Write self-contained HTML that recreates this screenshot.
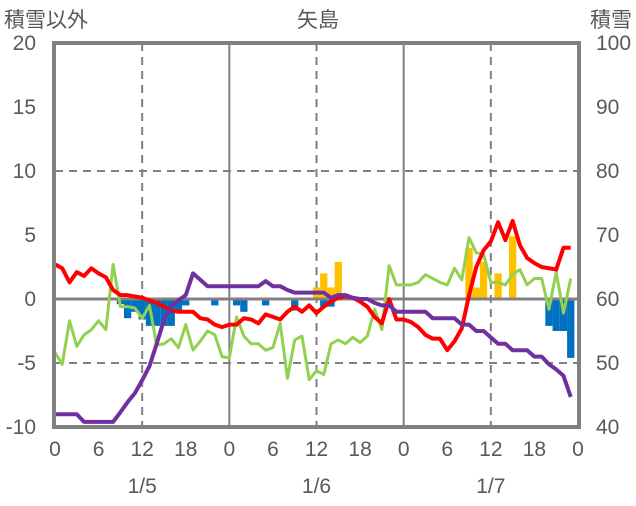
<!DOCTYPE html>
<html><head><meta charset="utf-8"><style>
body{margin:0;background:#fff;}
svg text{font-family:"Liberation Sans Narrow","Liberation Sans","Noto Sans CJK JP",sans-serif;fill:#595959;font-size:21px;}
</style></head><body>
<svg id="chart" width="636" height="501" viewBox="0 0 636 501" xmlns="http://www.w3.org/2000/svg"></svg>
<script>
const hours=[...Array(72).keys()];
const redValues=[2.7,2.4,1.3,2.1,1.8,2.4,2.0,1.7,0.7,0.3,0.3,0.2,0.1,-0.1,-0.3,-0.6,-0.9,-1.0,-1.0,-1.0,-1.5,-1.6,-2.0,-2.2,
-2.0,-2.0,-1.5,-1.6,-1.9,-1.2,-1.4,-1.6,-1.0,-0.6,-1.0,-0.5,-1.1,-0.6,-0.2,0.1,0.2,0.1,-0.2,-0.6,-1.4,-1.9,0.0,-1.6,
-1.6,-1.8,-2.2,-2.8,-3.1,-3.1,-4.0,-3.3,-2.3,0.3,2.5,3.8,4.5,6.0,4.6,6.1,4.2,3.2,2.8,2.5,2.4,2.3,4.0,4.0];
const greenValues=[-4.2,-5.1,-1.7,-3.7,-2.8,-2.4,-1.7,-2.4,2.7,-0.6,-0.6,-0.7,-1.5,-0.5,-3.6,-3.5,-3.1,-3.8,-2.0,-4.0,-3.3,-2.5,-2.8,-4.5,
-4.6,-1.4,-2.9,-3.5,-3.5,-4.0,-3.8,-1.9,-6.2,-3.2,-2.9,-6.3,-5.6,-5.9,-3.5,-3.2,-3.5,-3.0,-3.4,-2.9,-0.8,-2.4,2.6,1.1,
1.1,1.1,1.3,1.9,1.6,1.3,1.1,2.4,1.5,4.8,3.6,3.5,1.3,1.3,1.1,1.9,2.3,1.1,1.6,1.6,-0.8,2.1,-1.1,1.6];
const purpleValues=[42,42,42,42,40.8,40.8,40.8,40.8,40.8,42.3,43.9,45.3,47.3,49.5,53,56.7,58.9,59.8,60.6,64,63,62,62,62,
62,62,62,62,62,62.8,62,62,61.4,61,61,61,61,61,60.2,60.6,60.6,60.2,60,60,59.4,59,59,58,
58,58,58,58,57,57,57,57,56,56,55,55,54,53,53,52,52,52,51,51,49.8,49,48,44.7];
const blueHours=[9,10,11,12,13,14,15,16,17,18,22,25,26,29,33,37,38,68,69,70,71];
const blueValues=[-0.4,-1.5,-1.0,-1.6,-2.1,-2.1,-2.1,-2.1,-1.1,-0.5,-0.5,-0.5,-1.0,-0.5,-0.9,-0.6,-0.6,-2.1,-2.5,-2.5,-4.6];
const yellowHours=[36,37,38,39,57,58,59,61,63];
const yellowValues=[0.9,2.0,0.9,2.9,4.0,0.9,2.9,2.0,4.9];
const leftTicks=[20,15,10,5,0,-5,-10];
const rightTicks=[100,90,80,70,60,50,40];
const xTickLabels=["0","6","12","18","0","6","12","18","0","6","12","18","0"];
const dateLabels=["1/5","1/6","1/7"];

const svg=document.getElementById('chart');
const NS='http://www.w3.org/2000/svg';
const L=55,R=578,T=43,B=427;
const xs=h=>L+h*(R-L)/72;
const yl=v=>B-(v+10)*(B-T)/30;
const yr=v=>B-(v-40)*(B-T)/60;
function mk(tag,attrs,parent){const e=document.createElementNS(NS,tag);for(const k in attrs)e.setAttribute(k,attrs[k]);(parent||svg).appendChild(e);return e;}

// grid
const grid=mk('g',{});


[10,-5].forEach(v=>{const l=mk('line',{x1:L,x2:R,y1:yl(v),y2:yl(v),stroke:'#808080','stroke-width':2,'stroke-dasharray':'8,6'},grid);

});
[5,15].forEach(v=>{const l=mk('line',{x1:L,x2:R,y1:yl(v),y2:yl(v),stroke:'#d0d0d0','stroke-width':1,'stroke-dasharray':'0'},grid);l.setAttribute('opacity','0');});
[12,36,60].forEach(h=>{const l=mk('line',{x1:xs(h),x2:xs(h),y1:T,y2:B,stroke:'#808080','stroke-width':2,'stroke-dasharray':'8,6'},grid);

});
[24,48].forEach(h=>{const l=mk('line',{x1:xs(h),x2:xs(h),y1:T,y2:B,stroke:'#808080','stroke-width':2},grid);

});

// bars
const bw=(R-L)/72;
blueHours.forEach((h,i)=>{const v=blueValues[i];const r=mk('rect',{x:xs(h)-bw/2,y:yl(0),width:bw,height:yl(v)-yl(0),fill:'#0070c0'});

});
yellowHours.forEach((h,i)=>{const v=yellowValues[i];const r=mk('rect',{x:xs(h)-bw/2,y:yl(v),width:bw,height:yl(0)-yl(v),fill:'#ffc000'});

});

// zero line
const z=mk('line',{x1:L,x2:R,y1:yl(0),y2:yl(0),stroke:'#808080','stroke-width':3});



function line(vals,fy,color,w,name){const p=mk('polyline',{points:vals.map((v,i)=>xs(hours[i])+','+fy(v)).join(' '),fill:'none',stroke:color,'stroke-width':w,'stroke-linejoin':'round'});

}
line(greenValues,yl,'#92d050',3,'series-green');
line(redValues,yl,'#ff0000',4,'series-red');
line(purpleValues,yr,'#7030a0',4,'series-snow-depth');

// frame
const f=mk('rect',{x:L-1,y:T,width:R-L+2,height:B-T,fill:'none',stroke:'#808080','stroke-width':4});



leftTicks.forEach(v=>{const t=mk('text',{x:36,y:yl(v)+7,'text-anchor':'end'});t.textContent=v;

});
rightTicks.forEach(v=>{const t=mk('text',{x:596,y:yr(v)+7,'text-anchor':'start'});t.textContent=v;

});
xTickLabels.forEach((s,i)=>{const t=mk('text',{x:xs(i*6),y:456,'text-anchor':'middle'});t.textContent=s;

});
dateLabels.forEach((s,i)=>{const t=mk('text',{x:xs(12+i*24),y:493,'text-anchor':'middle'});t.textContent=s;

});
const t1=mk('text',{x:4,y:27});t1.textContent='積雪以外';


const t2=mk('text',{x:318,y:27,'text-anchor':'middle'});t2.textContent='矢島';


const t3=mk('text',{x:632,y:27,'text-anchor':'end'});t3.textContent='積雪';


</script>
</body></html>
